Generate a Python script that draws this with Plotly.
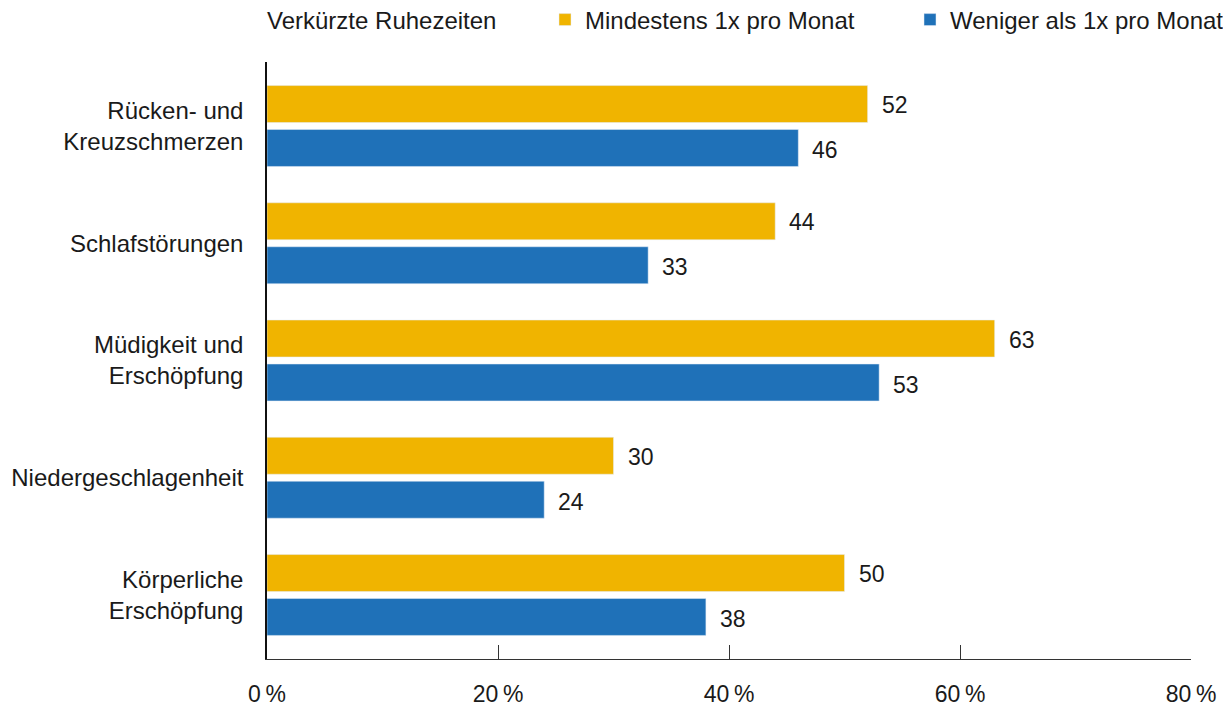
import plotly.graph_objects as go

categories = [
    "Rücken- und<br>Kreuzschmerzen",
    "Schlafstörungen",
    "Müdigkeit und<br>Erschöpfung",
    "Niedergeschlagenheit",
    "Körperliche<br>Erschöpfung",
]
mindestens = [52, 44, 63, 30, 50]
weniger = [46, 33, 53, 24, 38]
tick_vals = [0, 20, 40, 60, 80]
tick_text = ["0\u2009%", "20\u2009%", "40\u2009%", "60\u2009%", "80\u2009%"]

YELLOW = "#F0B400"
BLUE = "#1F71B8"
FONT = "Liberation Sans, Arial, sans-serif"
TXT = "#1a1a1a"

fig = go.Figure()
fig.add_trace(go.Bar(y=categories, x=mindestens, orientation="h",
                     marker_color=YELLOW, name="Mindestens 1x pro Monat"))
fig.add_trace(go.Bar(y=categories, x=weniger, orientation="h",
                     marker_color=BLUE, name="Weniger als 1x pro Monat"))

# value labels next to each bar end
for i, cat in enumerate(categories):
    for val, shift in ((mindestens[i], 21), (weniger[i], -24)):
        fig.add_annotation(x=val, y=cat, text=str(val), showarrow=False,
                           xanchor="left", xshift=12, yshift=shift,
                           font=dict(size=23, color=TXT, family=FONT))

fig.add_annotation(x=0, y=1, xref="paper", yref="paper", xanchor="left",
                   yanchor="middle", yshift=42, xshift=-2,
                   text="Verkürzte Ruhezeiten",
                   showarrow=False, font=dict(size=24, color=TXT, family=FONT))

# page body has an 8px margin, so the figure is 8px smaller than the window
W, H = 1223, 701
ML, MR, MT, MB = 259, 40, 54, 50
plot_h = H - MT - MB
legend_x = (537 - ML) / (W - ML - MR)
legend_y = 1 + 42 / plot_h

fig.update_layout(
    width=W, height=H,
    margin=dict(l=ML, r=MR, t=MT, b=MB, autoexpand=False),
    paper_bgcolor="white", plot_bgcolor="white",
    barmode="group", bargap=0.25, bargroupgap=0.16,
    font=dict(family=FONT, size=24, color=TXT),
    showlegend=True,
    legend=dict(orientation="h", x=legend_x, xanchor="left",
                y=legend_y, yanchor="middle",
                entrywidth=320, entrywidthmode="pixels",
                font=dict(size=24, color=TXT), traceorder="normal"),
    xaxis=dict(range=[0, 80], tickvals=tick_vals, ticktext=tick_text,
               showgrid=False, zeroline=False, showline=True, linecolor="#333",
               linewidth=1, ticks="inside", ticklen=14, tickcolor="#333",
               ticklabelstandoff=14, tickfont=dict(size=23), automargin=False),
    yaxis=dict(range=[4.546, -0.546], showgrid=False, zeroline=False,
               showline=True, linecolor="#111", linewidth=1.5, ticks="",
               ticklabelstandoff=17, tickfont=dict(size=24), automargin=False),
)

fig.write_html("out.html")
